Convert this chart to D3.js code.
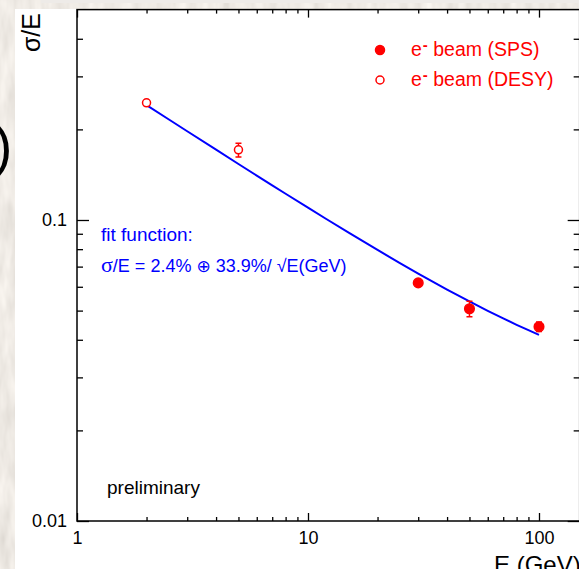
<!DOCTYPE html>
<html>
<head>
    <style>
        body {
            margin: 0;
            background: #fff;
            font-family: "Liberation Sans", Arial, Helvetica, sans-serif;
        }

        svg {
            display: block;
        }

        .tick text {
            font-size: 18px;
            fill: #000;
            font-family: "Liberation Sans", Arial, sans-serif;
        }

        .tick line {
            stroke: #000;
            stroke-width: 1.3;
        }

        .domain {
            display: none;
        }
    </style>
</head>
<body>
    <div id="chart"></div>
    <script src="https://cdnjs.cloudflare.com/ajax/libs/d3/7.8.5/d3.min.js"></script>
    <script>
        // Measurements: beam energy (GeV), relative resolution, error
        const spsEnergy = [30, 50, 100];
        const spsRes = [0.0618, 0.0507, 0.0442];
        const spsErr = [0.0015, 0.003, 0.0016];

        const desyEnergy = [2, 5];
        const desyRes = [0.245, 0.171];
        const desyErr = [0.002, 0.009];

        // Fit parameters: sigma/E = a (+) b/sqrt(E)
        const fitConst = 0.024;
        const fitStoch = 0.339;
        const fitEnergy = [2, 2.5, 3, 4, 5, 6, 7, 8, 10, 12, 15, 20, 25, 30, 40, 50, 60, 70, 80, 90, 100];

        const xMajor = [1, 10, 100];
        const xMinor = [2, 3, 4, 5, 6, 7, 8, 9, 20, 30, 40, 50, 60, 70, 80, 90];
        const yMajor = [0.01, 0.1];
        const yMinor = [0.02, 0.03, 0.04, 0.05, 0.06, 0.07, 0.08, 0.09, 0.2, 0.3, 0.4];

        const W = 579, H = 569;
        const plot = { left: 77, top: 9.6, bottom: 521 };
        const decadeX = 231;

        const svg = d3.select("#chart")
            .append("svg")
            .attr("width", W)
            .attr("height", H);

        // Textured slide background behind the plot canvas
        const defs = svg.append("defs");
        const paper = defs.append("filter")
            .attr("id", "paper")
            .attr("x", 0).attr("y", 0).attr("width", 1).attr("height", 1);
        paper.append("feTurbulence")
            .attr("type", "fractalNoise")
            .attr("baseFrequency", "0.09 0.025")
            .attr("numOctaves", 3)
            .attr("seed", 7);
        paper.append("feColorMatrix")
            .attr("type", "matrix")
            .attr("values", "0.3 0 0 0 0.71  0.3 0 0 0 0.675  0.3 0 0 0 0.63  0 0 0 0 1");

        svg.append("rect")
            .attr("width", W).attr("height", H)
            .attr("filter", "url(#paper)");

        svg.append("rect")
            .attr("x", 41).attr("y", 0)
            .attr("width", W - 41).attr("height", 3)
            .attr("fill", "#eeebe8");

        svg.append("text")
            .attr("x", -6).attr("y", 165)
            .style("font-size", "55px")
            .style("fill", "#000")
            .text(")");

        svg.append("rect")
            .attr("x", 15).attr("y", 9)
            .attr("width", W - 15).attr("height", H - 9)
            .attr("fill", "#fff");

        const x = d3.scaleLog()
            .domain([1, 150])
            .range([plot.left, plot.left + Math.log10(150) * decadeX]);

        const y = d3.scaleLog()
            .domain([0.01, 0.5])
            .range([plot.bottom, plot.top]);

        const xRight = x.range()[1];

        // Axes: labelled majors plus shorter minor ticks, all pointing inward
        svg.append("g")
            .attr("transform", `translate(0,${plot.bottom})`)
            .call(d3.axisBottom(x).tickValues(xMajor).tickSize(-8).tickPadding(10)
                .tickFormat(d3.format("")));
        svg.append("g")
            .attr("transform", `translate(0,${plot.bottom})`)
            .call(d3.axisBottom(x).tickValues(xMinor).tickSize(-4).tickFormat(""));
        svg.append("g")
            .attr("transform", `translate(0,${plot.top})`)
            .call(d3.axisTop(x).tickValues(xMajor).tickSize(-8).tickFormat(""));
        svg.append("g")
            .attr("transform", `translate(0,${plot.top})`)
            .call(d3.axisTop(x).tickValues(xMinor).tickSize(-4).tickFormat(""));

        svg.append("g")
            .attr("transform", `translate(${plot.left},0)`)
            .call(d3.axisLeft(y).tickValues(yMajor).tickSize(-12).tickPadding(10)
                .tickFormat(d3.format("")));
        svg.append("g")
            .attr("transform", `translate(${plot.left},0)`)
            .call(d3.axisLeft(y).tickValues(yMinor).tickSize(-6).tickFormat(""));
        svg.append("g")
            .attr("transform", `translate(${xRight},0)`)
            .call(d3.axisRight(y).tickValues(yMajor).tickSize(-12).tickFormat(""));
        svg.append("g")
            .attr("transform", `translate(${xRight},0)`)
            .call(d3.axisRight(y).tickValues(yMinor).tickSize(-6).tickFormat(""));

        svg.append("rect")
            .attr("x", plot.left).attr("y", plot.top)
            .attr("width", xRight - plot.left)
            .attr("height", plot.bottom - plot.top)
            .attr("fill", "none")
            .attr("stroke", "#000")
            .attr("stroke-width", 1.5);

        // Axis titles
        svg.append("text")
            .attr("transform", "translate(40,13) rotate(-90)")
            .attr("text-anchor", "end")
            .style("font-size", "25px")
            .text("σ/E");

        svg.append("text")
            .attr("x", 494).attr("y", 573)
            .style("font-size", "24px")
            .text("E (GeV)");

        // Fit curve
        const fitPoints = fitEnergy.map(e => [e, Math.hypot(fitConst, fitStoch / Math.sqrt(e))]);
        svg.append("path")
            .datum(fitPoints)
            .attr("fill", "none")
            .attr("stroke", "#0000ff")
            .attr("stroke-width", 2)
            .attr("d", d3.line().x(d => x(d[0])).y(d => y(d[1])));

        function drawSeries(energy, res, err, filled) {
            const pts = energy.map((e, i) => ({ e, v: res[i], err: err[i] }));
            const g = svg.append("g")
                .attr("stroke", "#ff0000")
                .attr("stroke-width", 1.5);
            g.selectAll(".bar").data(pts).enter()
                .append("path")
                .attr("fill", "none")
                .attr("d", d => {
                    const cx = x(d.e), y0 = y(d.v + d.err), y1 = y(d.v - d.err);
                    return `M${cx},${y0}V${y1}M${cx - 3},${y0}H${cx + 3}M${cx - 3},${y1}H${cx + 3}`;
                });
            g.selectAll("circle").data(pts).enter()
                .append("circle")
                .attr("cx", d => x(d.e))
                .attr("cy", d => y(d.v))
                .attr("r", filled ? 4.8 : 4)
                .attr("fill", filled ? "#ff0000" : "#fff");
        }

        drawSeries(spsEnergy, spsRes, spsErr, true);
        drawSeries(desyEnergy, desyRes, desyErr, false);

        // Legend
        const legendRows = [
            { label: "SPS", filled: true, cy: 50 },
            { label: "DESY", filled: false, cy: 80 }
        ];
        legendRows.forEach(r => {
            svg.append("circle")
                .attr("cx", 380).attr("cy", r.cy)
                .attr("r", r.filled ? 4.5 : 4)
                .attr("fill", r.filled ? "#ff0000" : "#fff")
                .attr("stroke", "#ff0000")
                .attr("stroke-width", 1.5);
            const t = svg.append("text")
                .attr("x", 411).attr("y", r.cy + 6)
                .style("font-size", "19.5px")
                .style("fill", "#ff0000");
            t.append("tspan").text("e");
            t.append("tspan")
                .attr("dx", 1).attr("dy", -6)
                .style("font-size", "15px").style("font-weight", "bold")
                .text("-");
            t.append("tspan").attr("dy", 6).text(` beam (${r.label})`);
        });

        // Fit annotation
        svg.append("text")
            .attr("x", 101).attr("y", 241)
            .style("font-size", "19px")
            .style("fill", "#0000ff")
            .text("fit function:");

        const fitLabel = svg.append("text")
            .attr("x", 101).attr("y", 272)
            .style("font-size", "18px")
            .style("fill", "#0000ff");
        fitLabel.append("tspan")
            .style("font-family", "'Liberation Serif', serif")
            .style("font-size", "22px")
            .text("σ");
        fitLabel.append("tspan")
            .text(`/E = ${(fitConst * 100).toFixed(1)}% `);
        fitLabel.append("tspan")
            .style("font-family", "'DejaVu Sans', sans-serif")
            .style("font-size", "17px")
            .text("⊕");
        fitLabel.append("tspan")
            .text(` ${(fitStoch * 100).toFixed(1)}%/ √E(GeV)`);

        svg.append("text")
            .attr("x", 107).attr("y", 494)
            .style("font-size", "19px")
            .style("fill", "#000")
            .text("preliminary");
    </script>
</body>
</html>
